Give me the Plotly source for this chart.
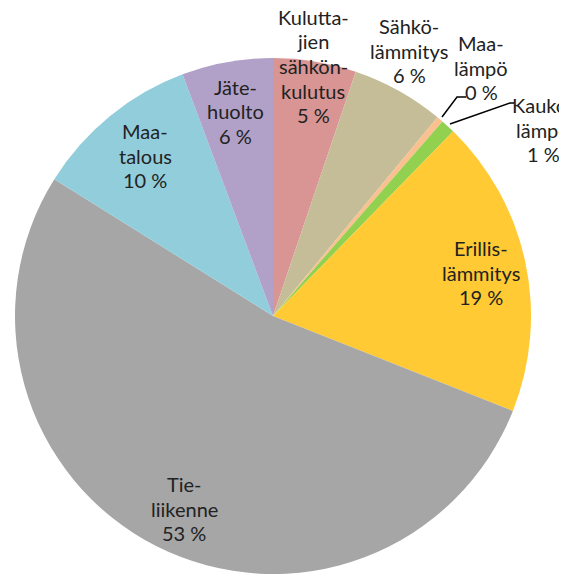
import plotly.graph_objects as go

W, H = 567, 575
OFF = 8  # page body margin

labels = ["Kuluttajien sähkönkulutus", "Sähkölämmitys", "Maalämpö", "Kaukolämpö",
          "Erillislämmitys", "Tieliikenne", "Maatalous", "Jätehuolto"]
values = [5.2, 5.8, 0.4, 0.9, 18.7, 52.9, 10.4, 5.7]
label_lines = [["Kulutta-", "jien", "sähkön-", "kulutus", "5 %"],
               ["Sähkö-", "lämmitys", "6 %"],
               ["Maa-", "lämpö", "0 %"],
               ["Kauko-", "lämpö", "1 %"],
               ["Erillis-", "lämmitys", "19 %"],
               ["Tie-", "liikenne", "53 %"],
               ["Maa-", "talous", "10 %"],
               ["Jäte-", "huolto", "6 %"]]
colors = ["#D99594", "#C4BD97", "#FAC090", "#92D050", "#FFCA33", "#A6A6A6", "#92CDDC", "#B1A0C7"]

# label positions (page pixels): center x, first-line center y
label_pos = [(313, 17), (409, 26), (481, 43), (543, 105), (481, 248), (184, 484), (145, 131), (235, 87)]
LINE_H = 24.5
leaders = [[(442, 117), (457, 97), (466, 97)], [(450, 124), (510, 103), (514, 103)]]

cx, cy, r = 273, 316, 258


def px(x):
    return (x - OFF) / W


def py(y):
    return 1 - (y - OFF) / H


fig = go.Figure(go.Pie(
    labels=labels, values=values, sort=False, direction="clockwise", rotation=0,
    marker=dict(colors=colors, line=dict(width=0)), textinfo="none",
    domain=dict(x=[px(cx - r), px(cx + r)], y=[py(cy + r), py(cy - r)]),
    showlegend=False, hoverinfo="label+percent",
))

for lines, (x, y0) in zip(label_lines, label_pos):
    for i, t in enumerate(lines):
        fig.add_annotation(x=px(x), y=py(y0 + i * LINE_H), xref="paper", yref="paper", text=t,
                           showarrow=False, align="center", xanchor="center", yanchor="middle",
                           font=dict(family="Lato", size=20, color="#222222"))

for pts in leaders:
    path = "M " + " L ".join(f"{px(a)},{py(b)}" for a, b in pts)
    fig.add_shape(type="path", path=path, xref="paper", yref="paper",
                  line=dict(color="#000000", width=1.5))

fig.update_layout(width=W, height=H, margin=dict(l=0, r=0, t=0, b=0),
                  paper_bgcolor="white", plot_bgcolor="white")
fig.write_html("out.html")
